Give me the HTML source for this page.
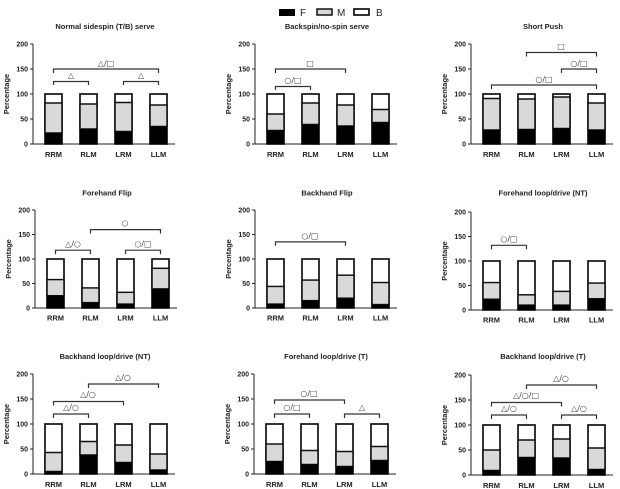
<!DOCTYPE html>
<html><head><meta charset="utf-8"><style>
body{margin:0;background:#fff}
svg{display:block;font-family:"Liberation Sans","DejaVu Sans",sans-serif}
.ax{stroke:#222;stroke-width:1;fill:none}
.tk{font-size:7px;fill:#222;text-anchor:end;font-weight:bold}
.xl{font-size:7.5px;fill:#222;text-anchor:middle;font-weight:bold}
.yl{font-size:7.5px;fill:#222;text-anchor:middle;font-weight:bold}
.tt{font-size:7.5px;fill:#222;text-anchor:middle;font-weight:bold}
.br{stroke:#333;stroke-width:1.2;fill:none}
.bt{font-size:8px;fill:#444;text-anchor:middle;font-family:"DejaVu Sans",sans-serif}
.w{fill:#fff;stroke:#111;stroke-width:1.7}
.g{fill:#d9d9d9;stroke:#111;stroke-width:1.5}
.k{fill:#000}
</style></head><body>
<svg width="620" height="489" viewBox="0 0 620 489">
<defs>
<g id="axes">
<path class="ax" d="M0,0V100H142M-3,0H0M-3,25H0M-3,50H0M-3,75H0M-3,100H0"/>
<text class="tk" x="-5" y="2.5">200</text><text class="tk" x="-5" y="27.5">150</text><text class="tk" x="-5" y="52.5">100</text><text class="tk" x="-5" y="77.5">50</text><text class="tk" x="-5" y="102.5">0</text>
<text class="yl" transform="translate(-24,50) rotate(-90)">Percentage</text>
<text class="xl" x="20.5" y="113">RRM</text><text class="xl" x="55.5" y="113">RLM</text><text class="xl" x="90.5" y="113">LRM</text><text class="xl" x="125.5" y="113">LLM</text>
</g>
<g id="bg">
<rect class="w" x="12" y="50" width="17" height="50"/><rect class="w" x="47" y="50" width="17" height="50"/><rect class="w" x="82" y="50" width="17" height="50"/><rect class="w" x="117" y="50" width="17" height="50"/>
</g>
</defs>
<rect x="279" y="9" width="16" height="7" fill="#000"/><text x="300" y="16" font-size="10" fill="#222">F</text>
<rect x="317" y="9" width="15" height="6" class="g"/><text x="337" y="16" font-size="10" fill="#222">M</text>
<rect x="354" y="9" width="15" height="6" class="w"/><text x="376" y="16" font-size="10" fill="#222">B</text>

<g transform="translate(33,44)"><use href="#axes"/><use href="#bg"/>
<text class="tt" x="72" y="-15">Normal sidespin (T/B) serve</text>
<rect class="g" x="12" y="59" width="17" height="30"/><rect class="k" x="12" y="89" width="17" height="11"/>
<rect class="g" x="47" y="60" width="17" height="25"/><rect class="k" x="47" y="85" width="17" height="15"/>
<rect class="g" x="82" y="58.5" width="17" height="29"/><rect class="k" x="82" y="87.5" width="17" height="12.5"/>
<rect class="g" x="117" y="61" width="17" height="21.5"/><rect class="k" x="117" y="82.5" width="17" height="17.5"/>
<path class="br" d="M20.5,41V37.5H55.5V41M90.5,41V37.5H125.5V41M20.5,29V25H125.5V29"/>
<text class="bt" x="38" y="34">△</text><text class="bt" x="108" y="34">△</text><text class="bt" x="73" y="22">△/□</text>
</g>
<g transform="translate(255,44)"><use href="#axes"/><use href="#bg"/>
<text class="tt" x="72" y="-15">Backspin/no-spin serve</text>
<rect class="g" x="12" y="70" width="17" height="16.5"/><rect class="k" x="12" y="86.5" width="17" height="13.5"/>
<rect class="g" x="47" y="59" width="17" height="21.5"/><rect class="k" x="47" y="80.5" width="17" height="19.5"/>
<rect class="g" x="82" y="61" width="17" height="21"/><rect class="k" x="82" y="82" width="17" height="18"/>
<rect class="g" x="117" y="65.5" width="17" height="13"/><rect class="k" x="117" y="78.5" width="17" height="21.5"/>
<path class="br" d="M20.5,46V42.5H55.5V46M20.5,29V25H90.5V29"/>
<text class="bt" x="38" y="39">○/□</text><text class="bt" x="55" y="22">□</text>
</g>
<g transform="translate(471,44)"><use href="#axes"/><use href="#bg"/>
<text class="tt" x="72" y="-15">Short Push</text>
<rect class="g" x="12" y="54.5" width="17" height="31.5"/><rect class="k" x="12" y="86" width="17" height="14"/>
<rect class="g" x="47" y="55" width="17" height="30.5"/><rect class="k" x="47" y="85.5" width="17" height="14.5"/>
<rect class="g" x="82" y="53" width="17" height="31.5"/><rect class="k" x="82" y="84.5" width="17" height="15.5"/>
<rect class="g" x="117" y="59" width="17" height="27"/><rect class="k" x="117" y="86" width="17" height="14"/>
<path class="br" d="M20.5,45V41H125.5V45M90.5,29V25H125.5V29M55.5,12.5V8.5H125.5V12.5"/>
<text class="bt" x="73" y="38">○/□</text><text class="bt" x="108" y="22">○/□</text><text class="bt" x="90" y="5">□</text>
</g>

<g transform="translate(35,210) scale(1,0.98)"><use href="#axes"/><use href="#bg"/>
<text class="tt" x="72" y="-15">Forehand Flip</text>
<rect class="g" x="12" y="71" width="17" height="16.5"/><rect class="k" x="12" y="87.5" width="17" height="12.5"/>
<rect class="g" x="47" y="79.5" width="17" height="15"/><rect class="k" x="47" y="94.5" width="17" height="5.5"/>
<rect class="g" x="82" y="84" width="17" height="12"/><rect class="k" x="82" y="96" width="17" height="4"/>
<rect class="g" x="117" y="59.5" width="17" height="21"/><rect class="k" x="117" y="80.5" width="17" height="19.5"/>
<path class="br" d="M20.5,45V41H55.5V45M90.5,45V41H125.5V45M55.5,24V20H125.5V24"/>
<text class="bt" x="38" y="37">△/○</text><text class="bt" x="108" y="37">○/□</text><text class="bt" x="90" y="16">○</text>
</g>
<g transform="translate(255,210) scale(1,0.98)"><use href="#axes"/><use href="#bg"/>
<text class="tt" x="72" y="-15">Backhand Flip</text>
<rect class="g" x="12" y="78" width="17" height="18"/><rect class="k" x="12" y="96" width="17" height="4"/>
<rect class="g" x="47" y="71.5" width="17" height="21"/><rect class="k" x="47" y="92.5" width="17" height="7.5"/>
<rect class="g" x="82" y="66.5" width="17" height="23.5"/><rect class="k" x="82" y="90" width="17" height="10"/>
<rect class="g" x="117" y="74" width="17" height="22.5"/><rect class="k" x="117" y="96.5" width="17" height="3.5"/>
<path class="br" d="M20.5,36.5V32.5H90.5V36.5"/>
<text class="bt" x="55" y="29">○/□</text>
</g>
<g transform="translate(471,212) scale(1,0.98)"><use href="#axes"/><use href="#bg"/>
<text class="tt" x="72" y="-17">Forehand loop/drive (NT)</text>
<rect class="g" x="12" y="72" width="17" height="17"/><rect class="k" x="12" y="89" width="17" height="11"/>
<rect class="g" x="47" y="84.5" width="17" height="10.5"/><rect class="k" x="47" y="95" width="17" height="5"/>
<rect class="g" x="82" y="81" width="17" height="14"/><rect class="k" x="82" y="95" width="17" height="5"/>
<rect class="g" x="117" y="72.5" width="17" height="16"/><rect class="k" x="117" y="88.5" width="17" height="11.5"/>
<path class="br" d="M20.5,38V34H55.5V38"/>
<text class="bt" x="38" y="30">○/□</text>
</g>

<g transform="translate(33,374)"><use href="#axes"/><use href="#bg"/>
<text class="tt" x="72" y="-15">Backhand loop/drive (NT)</text>
<rect class="g" x="12" y="78.5" width="17" height="19"/><rect class="k" x="12" y="97.5" width="17" height="2.5"/>
<rect class="g" x="47" y="67.5" width="17" height="13.5"/><rect class="k" x="47" y="81" width="17" height="19"/>
<rect class="g" x="82" y="71" width="17" height="17.5"/><rect class="k" x="82" y="88.5" width="17" height="11.5"/>
<rect class="g" x="117" y="80" width="17" height="16"/><rect class="k" x="117" y="96" width="17" height="4"/>
<path class="br" d="M20.5,44V40H55.5V44M20.5,31.5V27.5H90.5V31.5M55.5,14V10H125.5V14"/>
<text class="bt" x="38" y="36">△/○</text><text class="bt" x="55" y="23">△/○</text><text class="bt" x="90" y="6">△/○</text>
</g>
<g transform="translate(254,374)"><use href="#axes"/><use href="#bg"/>
<text class="tt" x="72" y="-15">Forehand loop/drive (T)</text>
<rect class="g" x="12" y="70" width="17" height="17.5"/><rect class="k" x="12" y="87.5" width="17" height="12.5"/>
<rect class="g" x="47" y="76.5" width="17" height="14"/><rect class="k" x="47" y="90.5" width="17" height="9.5"/>
<rect class="g" x="82" y="77.5" width="17" height="15"/><rect class="k" x="82" y="92.5" width="17" height="7.5"/>
<rect class="g" x="117" y="72.5" width="17" height="14"/><rect class="k" x="117" y="86.5" width="17" height="13.5"/>
<path class="br" d="M20.5,44V40H55.5V44M90.5,44V40H125.5V44M20.5,30V26H90.5V30"/>
<text class="bt" x="38" y="36">○/□</text><text class="bt" x="108" y="36">△</text><text class="bt" x="55" y="22">○/□</text>
</g>
<g transform="translate(471,375)"><use href="#axes"/><use href="#bg"/>
<text class="tt" x="72" y="-16">Backhand loop/drive (T)</text>
<rect class="g" x="12" y="75" width="17" height="20.5"/><rect class="k" x="12" y="95.5" width="17" height="4.5"/>
<rect class="g" x="47" y="65" width="17" height="17.5"/><rect class="k" x="47" y="82.5" width="17" height="17.5"/>
<rect class="g" x="82" y="64" width="17" height="19"/><rect class="k" x="82" y="83" width="17" height="17"/>
<rect class="g" x="117" y="73" width="17" height="21.5"/><rect class="k" x="117" y="94.5" width="17" height="5.5"/>
<path class="br" d="M20.5,44V40H55.5V44M90.5,44V40H125.5V44M20.5,31.5V27.5H90.5V31.5M55.5,14V10H125.5V14"/>
<text class="bt" x="38" y="36">△/○</text><text class="bt" x="108" y="36">△/○</text><text class="bt" x="55" y="23">△/○/□</text><text class="bt" x="90" y="6">△/○</text>
</g>
</svg>
</body></html>
